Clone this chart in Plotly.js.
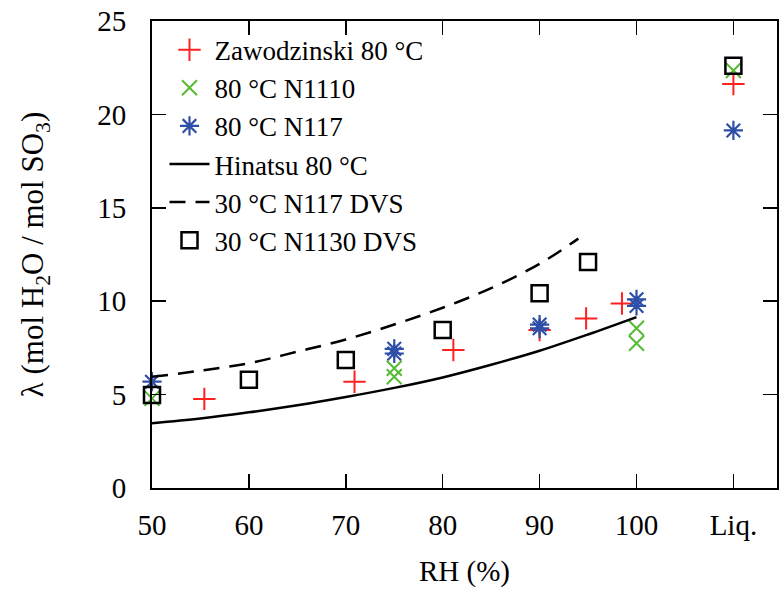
<!DOCTYPE html>
<html>
<head>
<meta charset="utf-8">
<script src="https://cdn.plot.ly/plotly-3.0.1.min.js"></script>
<style>html,body{margin:0;padding:0;background:#fff;}#chart{width:781px;height:595px;}</style>
</head>
<body>
<div id="chart"></div>
<script>
// Tick labels (Liq. plotted at position 110)
const rhTickVals = [50, 60, 70, 80, 90, 100, 110];
const rhTickText = ["50", "60", "70", "80", "90", "100", "Liq."];
const lambdaTickVals = [0, 5, 10, 15, 20, 25];

// Zawodzinski 80 °C
const zawX = [55.4, 70.9, 81.1, 90.0, 94.8, 98.5, 110];
const zawY = [4.77, 5.69, 7.39, 8.46, 9.08, 9.88, 21.63];

// 80 °C N1110
const n1110X = [50, 75, 75, 100, 100, 110];
const n1110Y = [4.8, 6.41, 5.96, 8.55, 7.75, 22.35];

// 80 °C N117
const n117X = [50, 75, 75, 90, 90, 100, 100, 110];
const n117Y = [5.69, 7.45, 7.2, 8.75, 8.55, 10.1, 9.75, 19.14];

// Hinatsu 80 °C
const hinX = [50, 55, 60, 65, 70, 75, 80, 85, 90, 95, 100];
const hinY = [3.47, 3.72, 4.05, 4.43, 4.87, 5.36, 5.92, 6.6, 7.35, 8.22, 9.15];

// 30 °C N117 DVS
const dvs117X = [50, 55, 60, 65, 70, 75, 80, 85, 90, 94];
const dvs117Y = [5.95, 6.28, 6.68, 7.3, 7.95, 8.75, 9.65, 10.7, 12.0, 13.35];

// 30 °C N1130 DVS
const n1130X = [50, 60, 70, 80, 90, 95, 110];
const n1130Y = [4.98, 5.79, 6.85, 8.46, 10.42, 12.1, 22.61];

const FONT = "'Times New Roman', 'Liberation Serif', serif";

const traces = [
  {x: zawX, y: zawY, name: "Zawodzinski 80 °C", mode: "markers", type: "scatter", cliponaxis: false,
   marker: {symbol: "cross-thin-open", size: 16, color: "#ff2020", line: {color: "#ff2020", width: 2}}},
  {x: n1110X, y: n1110Y, name: "80 °C N1110", mode: "markers", type: "scatter", cliponaxis: false,
   marker: {symbol: "x-thin-open", size: 15, color: "#55bb33", line: {color: "#55bb33", width: 2}}},
  {x: n117X, y: n117Y, name: "80 °C N117", mode: "markers", type: "scatter", cliponaxis: false,
   marker: {symbol: "asterisk-open", size: 16, color: "#2d4fa8", line: {color: "#2d4fa8", width: 2.2}}},
  {x: hinX, y: hinY, name: "Hinatsu 80 °C", mode: "lines", type: "scatter",
   line: {color: "#000", width: 2.5, shape: "spline"}},
  {x: dvs117X, y: dvs117Y, name: "30 °C N117 DVS", mode: "lines", type: "scatter",
   line: {color: "#000", width: 2.5, dash: "16px,10px", shape: "spline"}},
  {x: n1130X, y: n1130Y, name: "30 °C N1130 DVS", mode: "markers", type: "scatter", cliponaxis: false,
   marker: {symbol: "square-open", size: 16, color: "#000", line: {color: "#000", width: 2.5}}}
];

const axisCommon = {
  showline: true, linecolor: "#000", linewidth: 2, mirror: "ticks",
  ticks: "inside", ticklen: 14, tickwidth: 1.5, tickcolor: "#000",
  showgrid: false, zeroline: false,
  tickfont: {family: FONT, size: 29, color: "#000"}
};

const layout = {
  width: 781, height: 595,
  margin: {l: 152, r: 4, t: 21, b: 107},
  paper_bgcolor: "#fff", plot_bgcolor: "#fff",
  font: {family: FONT, color: "#000"},
  showlegend: true,
  legend: {
    x: 0.02, y: 0.99, xanchor: "left", yanchor: "top",
    bgcolor: "rgba(0,0,0,0)", borderwidth: 0,
    font: {family: FONT, size: 27, color: "#000"},
    traceorder: "normal", itemwidth: 40, tracegroupgap: 0
  },
  xaxis: Object.assign({}, axisCommon, {
    range: [50, 114.5], tickmode: "array", tickvals: rhTickVals, ticktext: rhTickText,
    ticklabelstandoff: 10,
    title: {text: "RH (%)", font: {family: FONT, size: 29, color: "#000"}, standoff: 21}
  }),
  yaxis: Object.assign({}, axisCommon, {
    range: [0, 25], tickmode: "array", tickvals: lambdaTickVals,
    ticklabelstandoff: 18,
    title: {text: "λ (mol H<sub>2</sub>O / mol SO<sub>3</sub>)", font: {family: FONT, size: 31, color: "#000"}, standoff: 44}
  })
};

Plotly.newPlot("chart", traces, layout, {displayModeBar: false, staticPlot: true});
</script>
</body>
</html>
